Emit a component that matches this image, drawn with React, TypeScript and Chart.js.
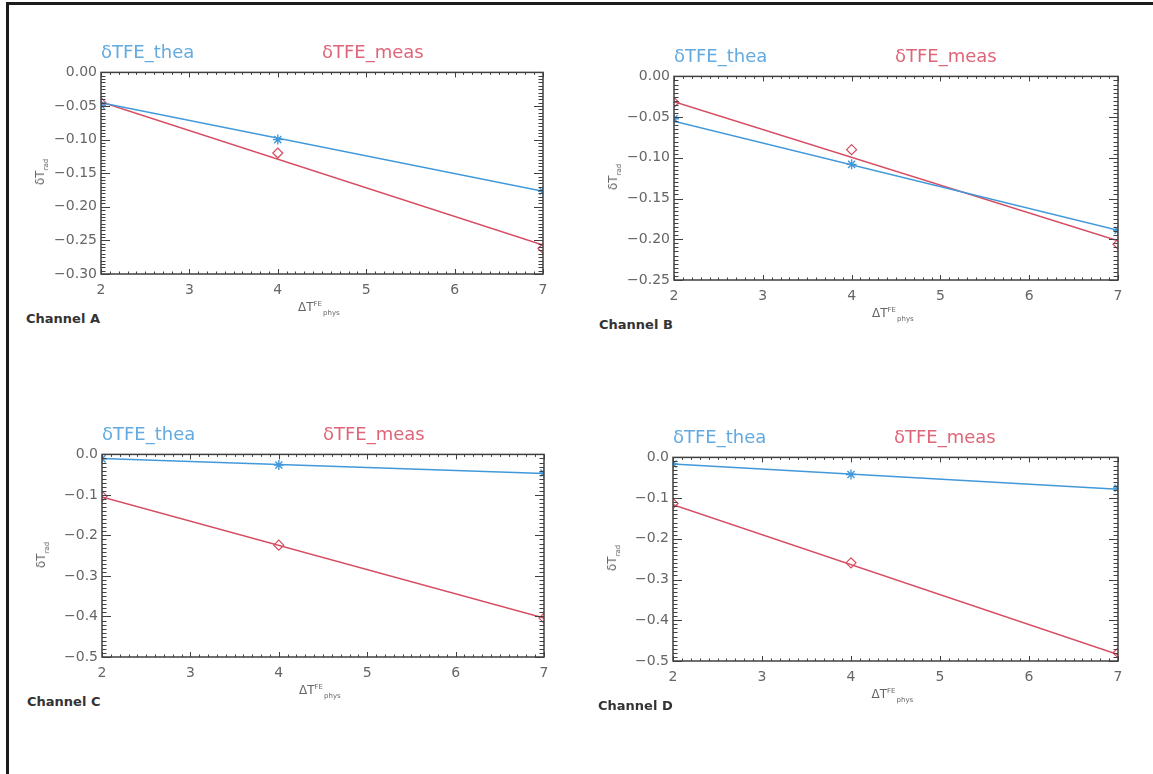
import React, { useEffect, useRef } from "react";
import { Chart, registerables } from "chart.js";

Chart.register(...registerables);

// ---------- data ----------
const X_POINTS = [2, 4, 7];
const X_FIT = [2, 7];
const CHANNELS = ["Channel A", "Channel B", "Channel C", "Channel D"];
const SERIES_NAMES = ["δTFE_thea", "δTFE_meas"];

const THEA_A = [-0.049, -0.1, -0.177];
const MEAS_A = [-0.045, -0.12, -0.262];
const THEA_FIT_A = [-0.045, -0.177];
const MEAS_FIT_A = [-0.044, -0.257];

const THEA_B = [-0.052, -0.108, -0.189];
const MEAS_B = [-0.032, -0.09, -0.206];
const THEA_FIT_B = [-0.055, -0.189];
const MEAS_FIT_B = [-0.031, -0.202];

const THEA_C = [-0.011, -0.026, -0.046];
const MEAS_C = [-0.103, -0.224, -0.404];
const THEA_FIT_C = [-0.01, -0.047];
const MEAS_FIT_C = [-0.105, -0.404];

const THEA_D = [-0.016, -0.042, -0.075];
const MEAS_D = [-0.113, -0.259, -0.48];
const THEA_FIT_D = [-0.016, -0.078];
const MEAS_FIT_D = [-0.116, -0.484];

const X_MIN = 2;
const X_MAX = 7;
const X_STEP = 1;
const Y_MIN = [-0.3, -0.25, -0.5, -0.5];
const Y_MAX = [0, 0, 0, 0];
const Y_STEP = [0.05, 0.05, 0.1, 0.1];
const Y_DECIMALS = [2, 2, 1, 1];

const THEA = [THEA_A, THEA_B, THEA_C, THEA_D];
const MEAS = [MEAS_A, MEAS_B, MEAS_C, MEAS_D];
const THEA_FIT = [THEA_FIT_A, THEA_FIT_B, THEA_FIT_C, THEA_FIT_D];
const MEAS_FIT = [MEAS_FIT_A, MEAS_FIT_B, MEAS_FIT_C, MEAS_FIT_D];

// ---------- layout / style ----------
const PLOT_BOXES = [
  { left: 101, top: 70, right: 543, bottom: 274 },
  { left: 674, top: 74, right: 1118, bottom: 280 },
  { left: 102, top: 452, right: 544, bottom: 657 },
  { left: 673, top: 455, right: 1118, bottom: 661 },
];
const PAD_L = 70;
const PAD_T = 10;
const PAD_R = 20;
const PAD_B = 30;

const BLUE = "#4199da";
const RED = "#d64d62";
const BLUE_TXT = "#62aae0";
const RED_TXT = "#df6678";
const AXIS = "#404040";
const TICK_TXT = "#666";
const FONT = "'DejaVu Sans', 'Liberation Sans', sans-serif";

const fmt = (v: number, d: number) => {
  const r = Math.abs(v) < 1e-9 ? 0 : v;
  const s = Math.abs(r).toFixed(d);
  return r < 0 ? "\u2212" + s : s;
};

const frameTicks = {
  id: "frameTicks",
  afterDatasetsDraw(chart: any) {
    const { ctx, chartArea: a, scales } = chart;
    const xs = scales.x;
    const ys = scales.y;
    const yStep = chart.options.scales.y.ticks.stepSize;
    ctx.save();
    ctx.strokeStyle = AXIS;
    ctx.lineWidth = 1;
    const line = (x1: number, y1: number, x2: number, y2: number) => {
      ctx.beginPath();
      ctx.moveTo(x1, y1);
      ctx.lineTo(x2, y2);
      ctx.stroke();
    };
    const nx = Math.round((xs.max - xs.min) / (X_STEP / 10));
    for (let i = 0; i <= nx; i++) {
      const v = xs.min + (i * X_STEP) / 10;
      const px = Math.round(xs.getPixelForValue(v)) + 0.5;
      const len = i % 10 === 0 ? 5 : 2.5;
      line(px, a.bottom, px, a.bottom - len);
      line(px, a.top, px, a.top + len);
    }
    const ny = Math.round((ys.max - ys.min) / (yStep / 10));
    for (let i = 0; i <= ny; i++) {
      const v = ys.min + (i * yStep) / 10;
      const py = Math.round(ys.getPixelForValue(v)) + 0.5;
      const len = i % 10 === 0 ? 9 : 4.5;
      line(a.left, py, a.left + len, py);
      line(a.right, py, a.right - len, py);
    }
    ctx.lineWidth = 1.5;
    ctx.strokeRect(a.left, a.top, a.right - a.left, a.bottom - a.top);
    ctx.restore();
  },
};

function Panel({ idx }: { idx: number }) {
  const ref = useRef<HTMLCanvasElement>(null);
  const box = PLOT_BOXES[idx];
  const w = box.right - box.left + PAD_L + PAD_R;
  const h = box.bottom - box.top + PAD_T + PAD_B;

  useEffect(() => {
    const chart = new Chart(ref.current as HTMLCanvasElement, {
      type: "scatter",
      data: {
        datasets: [
          {
            label: SERIES_NAMES[0] + " points",
            data: X_POINTS.map((x, i) => ({ x, y: THEA[idx][i] })),
            showLine: false,
            pointStyle: "star",
            pointRadius: 5,
            borderColor: BLUE,
            backgroundColor: BLUE,
            borderWidth: 1.4,
            clip: 0,
          },
          {
            label: SERIES_NAMES[1] + " points",
            data: X_POINTS.map((x, i) => ({ x, y: MEAS[idx][i] })),
            showLine: false,
            pointStyle: "rectRot",
            pointRadius: 5,
            borderColor: RED,
            backgroundColor: "rgba(0,0,0,0)",
            borderWidth: 1.2,
            clip: 0,
          },
          {
            label: SERIES_NAMES[0] + " fit",
            data: X_FIT.map((x, i) => ({ x, y: THEA_FIT[idx][i] })),
            showLine: true,
            pointRadius: 0,
            borderColor: BLUE,
            borderWidth: 1.5,
            clip: 0,
          },
          {
            label: SERIES_NAMES[1] + " fit",
            data: X_FIT.map((x, i) => ({ x, y: MEAS_FIT[idx][i] })),
            showLine: true,
            pointRadius: 0,
            borderColor: RED,
            borderWidth: 1.5,
            clip: 0,
          },
        ],
      } as any,
      options: {
        animation: false,
        responsive: false,
        events: [],
        layout: { padding: { left: 10, top: PAD_T, right: PAD_R, bottom: 0 } },
        plugins: { legend: { display: false }, tooltip: { enabled: false } },
        scales: {
          x: {
            type: "linear",
            min: X_MIN,
            max: X_MAX,
            border: { display: false },
            grid: { display: false, drawTicks: false },
            ticks: {
              stepSize: X_STEP,
              padding: 8,
              color: TICK_TXT,
              font: { family: FONT, size: 14 },
              maxRotation: 0,
              callback: (v: any) => String(v),
            },
            afterFit: (s: any) => {
              s.height = PAD_B;
            },
          },
          y: {
            type: "linear",
            min: Y_MIN[idx],
            max: Y_MAX[idx],
            border: { display: false },
            grid: { display: false, drawTicks: false },
            ticks: {
              stepSize: Y_STEP[idx],
              padding: 4,
              color: TICK_TXT,
              font: { family: FONT, size: 14 },
              callback: (v: any) => fmt(Number(v), Y_DECIMALS[idx]),
            },
            afterFit: (s: any) => {
              s.width = PAD_L - 10;
            },
          },
        },
      } as any,
      plugins: [frameTicks],
    });
    return () => chart.destroy();
  }, [idx]);

  const cx = (box.left + box.right) / 2;
  const cy = (box.top + box.bottom) / 2;

  return (
    <>
      <canvas
        ref={ref}
        width={w}
        height={h}
        style={{ position: "absolute", left: box.left - PAD_L, top: box.top - PAD_T, width: w, height: h }}
      />
      <div
        style={{
          position: "absolute",
          left: box.left,
          top: box.top - 29,
          fontSize: 18,
          lineHeight: "22px",
          color: BLUE_TXT,
          whiteSpace: "nowrap",
        }}
      >
        {SERIES_NAMES[0]}
      </div>
      <div
        style={{
          position: "absolute",
          left: box.left + 221,
          top: box.top - 29,
          fontSize: 18,
          lineHeight: "22px",
          color: RED_TXT,
          whiteSpace: "nowrap",
        }}
      >
        {SERIES_NAMES[1]}
      </div>
      <div
        style={{
          position: "absolute",
          left: box.left - 75,
          top: box.bottom + 36,
          fontSize: 13,
          lineHeight: "18px",
          fontWeight: "bold",
          color: "#333",
          whiteSpace: "nowrap",
        }}
      >
        {CHANNELS[idx]}
      </div>
      <div
        style={{
          position: "absolute",
          left: cx - 24,
          top: box.bottom + 26,
          fontSize: 12,
          lineHeight: "14px",
          color: TICK_TXT,
          whiteSpace: "nowrap",
        }}
      >
        ΔT
        <span style={{ fontSize: 7, position: "relative", top: -5 }}>FE</span>
        <span style={{ fontSize: 7, position: "relative", top: 4, marginLeft: 1 }}>phys</span>
      </div>
      <div
        style={{
          position: "absolute",
          left: box.left - 60,
          top: cy,
          width: 0,
          height: 0,
        }}
      >
        <div
          style={{
            position: "absolute",
            left: 0,
            top: 0,
            transform: "translate(-50%, -50%) rotate(-90deg)",
            fontSize: 12,
            lineHeight: "14px",
            color: TICK_TXT,
            whiteSpace: "nowrap",
          }}
        >
          δT<span style={{ fontSize: 7, position: "relative", top: 4 }}>rad</span>
        </div>
      </div>
    </>
  );
}

export default function App() {
  return (
    <div
      style={{
        position: "absolute",
        left: 0,
        top: 0,
        width: 1153,
        height: 774,
        overflow: "hidden",
        background: "#fff",
        fontFamily: FONT,
      }}
    >
      <div
        style={{
          position: "absolute",
          left: 6,
          top: 2,
          width: 1300,
          height: 900,
          borderLeft: "3px solid #1b1b1b",
          borderTop: "3px solid #1b1b1b",
        }}
      />
      {PLOT_BOXES.map((_, i) => (
        <Panel key={i} idx={i} />
      ))}
    </div>
  );
}
